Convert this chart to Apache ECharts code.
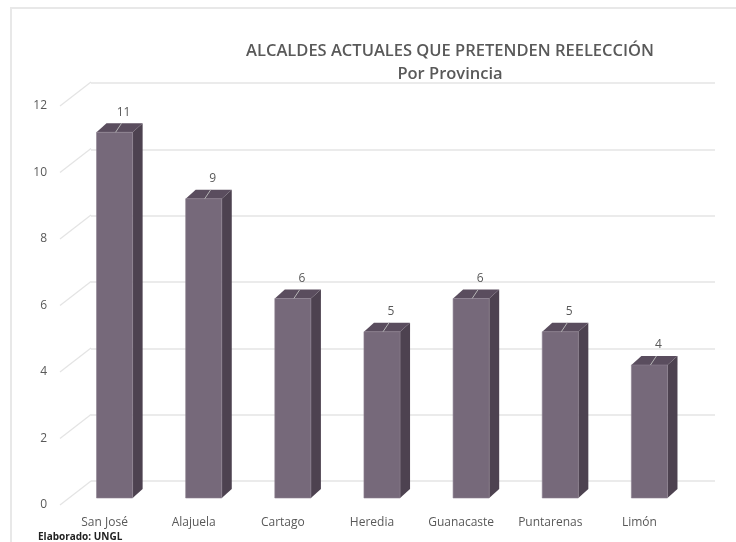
<!DOCTYPE html>
<html>
<head>
<meta charset="utf-8">
<script src="https://cdn.jsdelivr.net/npm/echarts@6/dist/echarts.min.js"></script>
<style>
  html, body { margin: 0; padding: 0; background: #fff; }
  #chart { width: 736px; height: 542px; }
</style>
</head>
<body>
<div id="chart"></div>
<script>
  // datos
  var provincias = ['San José', 'Alajuela', 'Cartago', 'Heredia', 'Guanacaste', 'Puntarenas', 'Limón'];
  var alcaldes = [11, 9, 6, 5, 6, 5, 4];
  var yTicks = [0, 2, 4, 6, 8, 10, 12];

  var font = '"Open Sans", "Noto Sans", sans-serif';
  var txtColor = '#595959';
  var gridColor = '#e4e4e4';

  var chart = echarts.init(document.getElementById('chart'));

  // barra con cara frontal, lateral y superior
  function renderBar(params, api) {
    var p = api.coord([api.value(0), api.value(1)]);
    var b = api.coord([api.value(0), 0]);
    var w = api.size([1, 0])[0] * 0.405;
    var cx = p[0] + 10, top = p[1] - 7, bottom = b[1] - 7;
    var l = cx - w / 2, r = cx + w / 2;
    var dx = 10, dy = -9;
    return {
      type: 'group',
      children: [
        {type: 'polygon', shape: {points: [[r, top], [r + dx, top + dy], [r + dx, bottom + dy], [r, bottom]]},
          style: {fill: '#4d4250'}},
        {type: 'polygon', shape: {points: [[l, top], [l + dx, top + dy], [r + dx, top + dy], [r, top]]},
          style: {fill: '#5a4d5e'}},
        {type: 'rect', shape: {x: l, y: top, width: w, height: bottom - top},
          style: {fill: '#76697a', stroke: '#8d8291', lineWidth: 0.6}},
        {type: 'line', shape: {x1: cx + 1, y1: top, x2: cx + 7, y2: top - 9},
          style: {stroke: '#b5b5b5', lineWidth: 1}},
        {type: 'text', style: {text: String(api.value(1)), x: cx + 9, y: top - 20,
          align: 'center', verticalAlign: 'middle', fill: txtColor, fontSize: 12, fontFamily: font}}
      ]
    };
  }

  // lineas diagonales del piso/pared
  function renderDiag(params, api) {
    var y = api.coord([0, api.value(1)])[1];
    var x0 = params.coordSys.x;
    return {type: 'line', shape: {x1: x0, y1: y, x2: x0 + 31, y2: y - 24},
      style: {stroke: gridColor, lineWidth: 1.2}};
  }

  chart.setOption({
    backgroundColor: '#ffffff',
    animation: false,
    title: [
      {text: 'ALCALDES ACTUALES QUE PRETENDEN REELECCIÓN', left: 445, top: 38, textAlign: 'center',
        textStyle: {fontSize: 16.5, fontWeight: 600, color: txtColor, fontFamily: font}},
      {text: 'Por Provincia', left: 445, top: 61, textAlign: 'center',
        textStyle: {fontSize: 16.5, fontWeight: 600, color: txtColor, fontFamily: font}},
      {text: 'Elaborado: UNGL', left: 33, top: 527,
        textStyle: {fontSize: 10, fontWeight: 'bold', color: '#222', fontFamily: font}}
    ],
    graphic: [
      {type: 'line', shape: {x1: 10, y1: 8, x2: 736, y2: 8}, style: {stroke: '#e8e8e8', lineWidth: 2}},
      {type: 'line', shape: {x1: 11, y1: 8, x2: 11, y2: 542}, style: {stroke: '#e8e8e8', lineWidth: 2}}
    ],
    grid: [
      {left: 60, right: 52, top: 106, bottom: 37},
      {left: 91, right: 21, top: 83, bottom: 61}
    ],
    xAxis: [
      {type: 'category', gridIndex: 0, data: provincias,
        axisLine: {show: false}, axisTick: {show: false},
        axisLabel: {interval: 0, margin: 12, color: txtColor, fontSize: 12, fontFamily: font}},
      {type: 'category', gridIndex: 1, data: provincias, show: false}
    ],
    yAxis: [
      {type: 'value', gridIndex: 0, min: 0, max: 12, interval: 2,
        axisLine: {show: false}, axisTick: {show: false}, splitLine: {show: false},
        axisLabel: {margin: 13, color: txtColor, fontSize: 12, fontFamily: font}},
      {type: 'value', gridIndex: 1, min: 0, max: 12, interval: 2,
        axisLine: {show: false}, axisTick: {show: false}, axisLabel: {show: false},
        splitLine: {show: true, lineStyle: {color: gridColor, width: 1.6}}}
    ],
    series: [
      {type: 'custom', xAxisIndex: 0, yAxisIndex: 0, renderItem: renderDiag, silent: true,
        data: yTicks.map(function (v) { return [0, v]; })},
      {type: 'custom', xAxisIndex: 0, yAxisIndex: 0, renderItem: renderBar, z: 5,
        data: alcaldes.map(function (v, i) { return [i, v]; })}
    ]
  });
</script>
</body>
</html>
